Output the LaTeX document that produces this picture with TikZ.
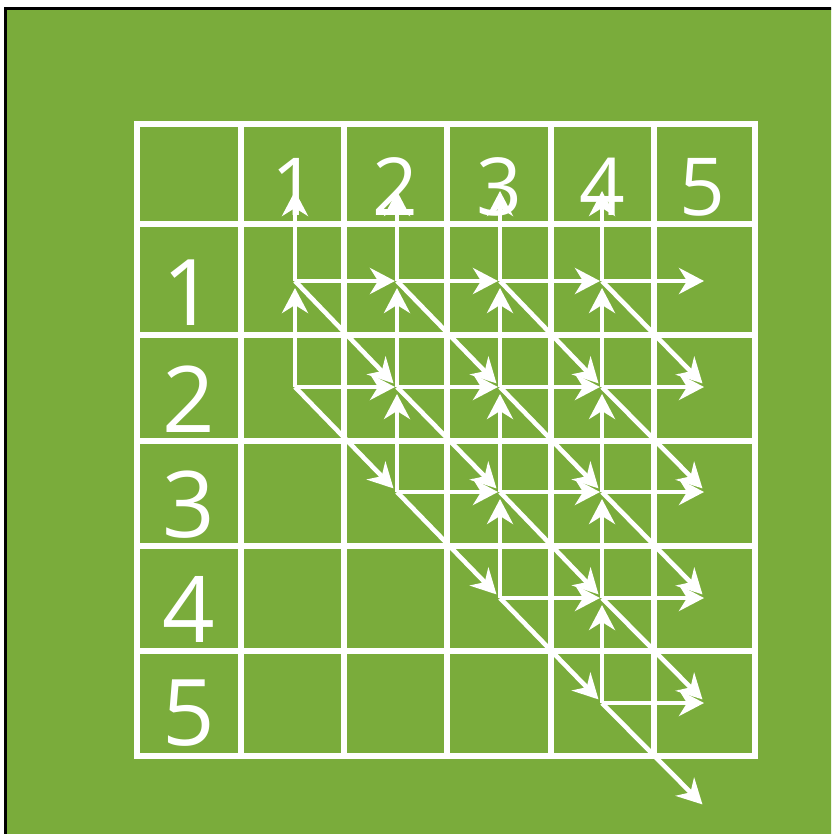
\documentclass[tikz,border=0pt]{standalone}
\usepackage{fontspec}
\setmainfont{Open Sans}
\usetikzlibrary{arrows.meta}
\definecolor{bggreen}{RGB}{122,172,59}
\tikzset{
  gridline/.style={draw=white, line width=5.5pt},
  arrowline/.style={draw=white, line width=4.6pt, -{Stealth[length=25pt,width=26pt,inset=8pt]}},
  headlabel/.style={text=white, anchor=base, inner sep=0pt, font=\fontsize{80}{80}\selectfont},
  sidelabel/.style={text=white, anchor=base, inner sep=0pt, font=\fontsize{92}{92}\selectfont},
}
\begin{document}
\begin{tikzpicture}[x=1pt,y=-1pt]
\useasboundingbox (0,0) rectangle (831,834);
\clip (0,0) rectangle (831,834);
\fill[white] (0,0) rectangle (831,834);
\draw[fill=bggreen, draw=black, line width=3pt] (5.5,8.5) rectangle (845,845);
% grid
\draw[gridline] (137,124) rectangle (755,756);
\foreach \x in {241,344,447,551,654} \draw[gridline] (\x,124) -- (\x,756);
\foreach \y in {224,335,441,546,651} \draw[gridline] (137,\y) -- (755,\y);
% labels
\foreach \j/\x in {1/294,2/395,3/499,4/602,5/702}
  \node[headlabel] (h\j) at (\x,215) {\j};
\foreach \i/\y in {1/325,2/432,3/537,4/642,5/745}
  \node[sidelabel] (s\i) at (189,\y) {\i};
% lattice points
\foreach \j/\x in {1/295,2/397,3/500,4/602,5/706}
  \foreach \i/\y in {0/184,1/281,2/387,3/492,4/598,5/703,6/808}
    \coordinate (p-\i-\j) at (\x,\y);
% arrows
\foreach \i in {1,...,5} {
  \foreach \j in {1,...,4} {
    \pgfmathtruncatemacro\jmin{max(1,\i-1)}
    \pgfmathtruncatemacro\ip{\i+1}
    \pgfmathtruncatemacro\im{\i-1}
    \pgfmathtruncatemacro\jp{\j+1}
    \ifnum\j<\jmin\relax\else
      \draw[arrowline, shorten >=2pt] (p-\i-\j) -- (p-\i-\jp);
      \draw[arrowline, shorten >=7pt] (p-\i-\j) -- (p-\im-\j);
      \draw[arrowline, shorten >=5pt] (p-\i-\j) -- (p-\ip-\jp);
    \fi
  }
}
\end{tikzpicture}
\end{document}
